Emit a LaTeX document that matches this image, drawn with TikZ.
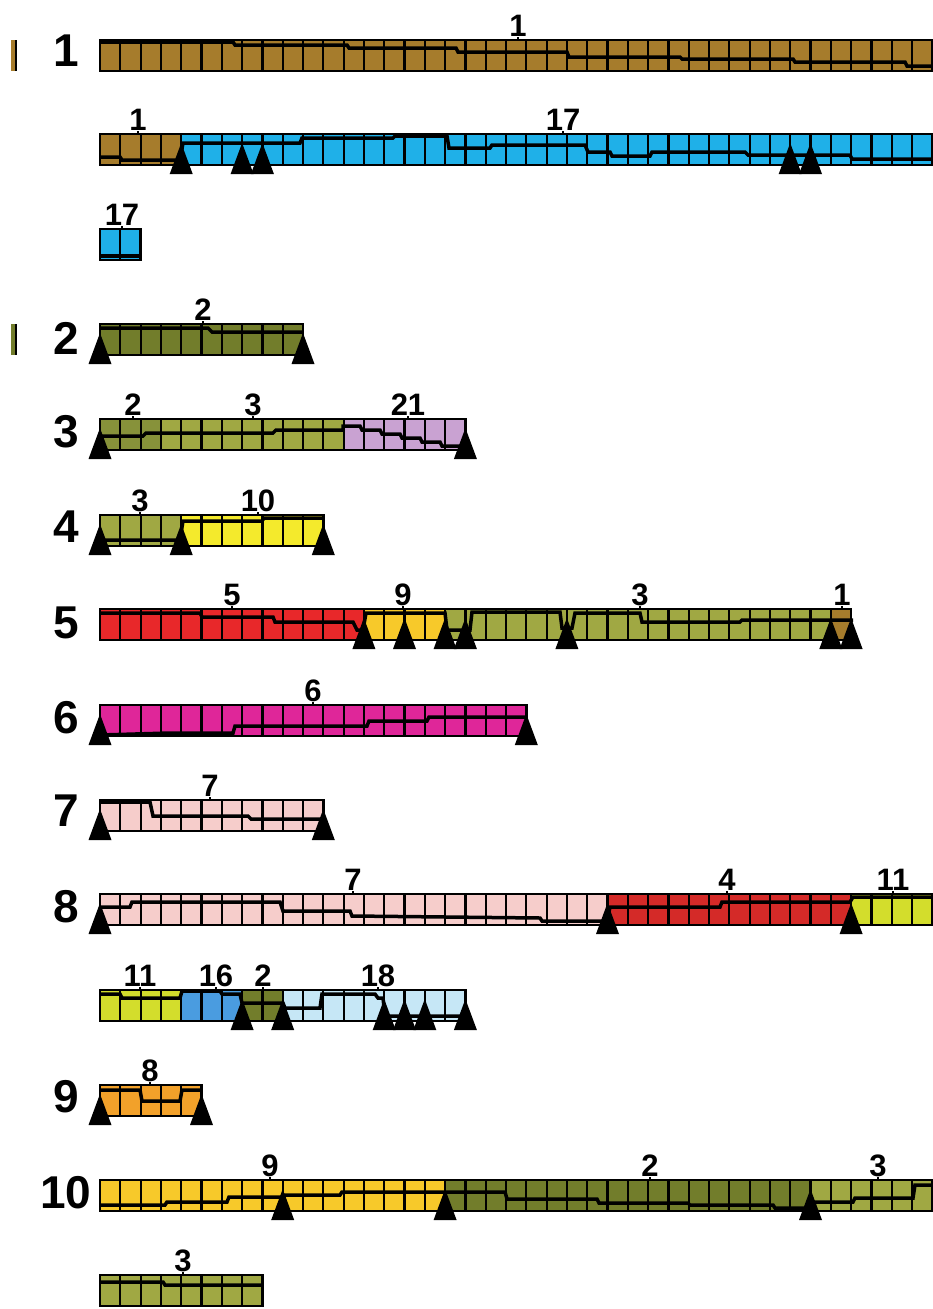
\documentclass[tikz,border=0pt]{standalone}
\usepackage{fontspec}
\setsansfont{Liberation Sans}

\tikzset{
    cellLine/.style={black, line width=2.2pt},
    barEdge/.style={black, line width=2.6pt},
    divLine/.style={black, line width=3.5pt},
    tickLine/.style={black, line width=2.5pt},
    rowLabel/.style={font=\fontsize{46}{46}\selectfont\sffamily\bfseries, inner sep=0pt},
    segLabel/.style={font=\fontsize{31}{31}\selectfont\sffamily\bfseries, inner sep=0pt, anchor=south},
}

\begin{document}
\begin{tikzpicture}[x=1pt, y=-1pt]
    \definecolor{brownCol}{HTML}{A67C2C}
    \definecolor{blueCol}{HTML}{1FB0E8}
    \definecolor{oliveDark}{HTML}{727D2B}
    \definecolor{oliveMid}{HTML}{87923A}
    \definecolor{oliveCol}{HTML}{A0A843}
    \definecolor{lilacCol}{HTML}{C9A2D2}
    \definecolor{yellowCol}{HTML}{F4EA2C}
    \definecolor{redCol}{HTML}{E8282A}
    \definecolor{goldCol}{HTML}{F7C92A}
    \definecolor{magentaCol}{HTML}{DF2699}
    \definecolor{pinkCol}{HTML}{F6CDCB}
    \definecolor{darkRedCol}{HTML}{D42A28}
    \definecolor{limeCol}{HTML}{D3DD2C}
    \definecolor{midBlueCol}{HTML}{4A9CE0}
    \definecolor{paleBlueCol}{HTML}{C6E7F6}
    \definecolor{orangeCol}{HTML}{F2A12A}

    \def\cellW{20.3}
    \def\barH{31}

    \useasboundingbox (0,0) rectangle (933,1309);
    \clip (0,0) rectangle (933,1309);

    % Segment: first cell, last cell, bar top, colour
    \def\drawSeg#1#2#3#4{%
        \fill[#4] ({100+#1*\cellW},#3) rectangle ({100+#2*\cellW},#3+\barH);
        \foreach \c in {#1,...,#2}
            \draw[cellLine] ({100+\c*\cellW},#3) -- ++(0,\barH);
    }

    % Cut-off bars at the left edge
    \fill[brownCol] (11,40) rectangle (16,71);
    \fill[oliveDark] (11,324) rectangle (16,355);
    \draw[barEdge] (16,40) -- (16,71);
    \draw[barEdge] (16,324) -- (16,355);

    % Draw coloured segments
    \foreach \a/\b/\t/\col in {0/42/40/brownCol, 0/4/134/brownCol, 4/42/134/blueCol,
        0/2/229/blueCol, 0/10/324/oliveDark,
        0/3/419/oliveMid, 3/12/419/oliveCol, 12/18/419/lilacCol,
        0/4/515/oliveCol, 4/11/515/yellowCol,
        0/13/609/redCol, 13/17/609/goldCol, 17/36/609/oliveCol, 36/37/609/brownCol,
        0/21/705/magentaCol, 0/11/800/pinkCol,
        0/25/894/pinkCol, 25/37/894/darkRedCol, 37/42/894/limeCol,
        0/4/990/limeCol, 4/7/990/midBlueCol, 7/9/990/oliveDark, 9/18/990/paleBlueCol,
        0/5/1085/orangeCol,
        0/17/1180/goldCol, 17/35/1180/oliveDark, 35/42/1180/oliveCol,
        0/8/1275/oliveCol}
        \drawSeg{\a}{\b}{\t}{\col};

    % Stepped divider lines
    \draw[divLine] (100,42) -- (233,42) -- (235,45) -- (347,45) -- (349,48) -- (456,48) -- (458,52)
        -- (567,52) -- (569,57) -- (680,57) -- (682,59) -- (793,59) -- (795,62) -- (905,62)
        -- (907,66) -- (940,66);
    \draw[divLine] (100,157) -- (120,157) -- (122,160) -- (180,160) -- (183,143) -- (300,143)
        -- (302,138) -- (393,138) -- (395,136) -- (447,136) -- (449,148) -- (490,148) -- (492,145)
        -- (585,145) -- (588,152) -- (610,152) -- (612,156) -- (650,156) -- (652,152) -- (745,152)
        -- (748,155) -- (850,155) -- (852,159) -- (940,159);
    \draw[divLine] (100,256) -- (141,256);
    \draw[divLine] (100,328) -- (208,328) -- (212,332) -- (303,332);
    \draw[divLine] (100,436) -- (143,436) -- (146,433) -- (273,433) -- (276,430) -- (343,430)
        -- (343,426) -- (360,426) -- (362,430) -- (380,430) -- (382,434) -- (400,434) -- (402,438)
        -- (420,438) -- (422,442) -- (440,442) -- (442,446) -- (465,446);
    \draw[divLine] (100,540) -- (180,540) -- (183,521) -- (262,521) -- (264,518) -- (323,518);
    \draw[divLine] (100,613) -- (200,613) -- (202,617) -- (273,617) -- (275,622) -- (353,622)
        -- (357,630) -- (363,630) -- (366,613) -- (445,613) -- (447,630) -- (470,630) -- (472,612)
        -- (560,612) -- (562,628) -- (572,628) -- (575,613) -- (640,613) -- (642,622) -- (740,622)
        -- (742,620) -- (853,620);
    \draw[divLine] (100,735) -- (170,733) -- (233,733) -- (235,726) -- (367,726) -- (369,721)
        -- (427,721) -- (429,717) -- (527,717);
    \draw[divLine] (100,802) -- (150,802) -- (153,816) -- (248,816) -- (251,819) -- (323,819);
    \draw[divLine] (100,907) -- (130,907) -- (132,902) -- (280,902) -- (283,911) -- (350,911)
        -- (352,916) -- (540,918) -- (542,921) -- (607,921) -- (610,907) -- (720,907) -- (722,902)
        -- (850,902) -- (853,897) -- (940,897);
    \draw[divLine] (100,994) -- (120,994) -- (122,998) -- (180,998) -- (182,991) -- (220,991)
        -- (222,994) -- (240,994) -- (242,1003) -- (283,1003) -- (285,1008) -- (320,1008)
        -- (322,994) -- (375,994) -- (378,998) -- (383,998) -- (385,1016) -- (465,1016);
    \draw[divLine] (100,1090) -- (140,1090) -- (142,1101) -- (180,1101) -- (182,1090) -- (202,1090);
    \draw[divLine] (100,1205) -- (165,1205) -- (167,1202) -- (227,1202) -- (229,1197) -- (283,1197)
        -- (285,1195) -- (340,1195) -- (342,1192) -- (505,1192) -- (507,1199) -- (597,1199)
        -- (599,1203) -- (688,1203) -- (690,1205) -- (773,1205) -- (775,1208) -- (813,1208)
        -- (815,1202) -- (853,1202) -- (855,1198) -- (913,1198) -- (915,1185) -- (940,1185);
    \draw[divLine] (100,1282) -- (163,1282) -- (165,1285) -- (263,1285);

    % Bar outlines: top, number of cells
    \foreach \t/\n in {40/42, 134/42, 229/2, 324/10, 419/18, 515/11, 609/37, 705/21,
        800/11, 894/42, 990/18, 1085/5, 1180/42, 1275/8}
        \draw[barEdge] (100,\t) rectangle ({100+\n*\cellW},\t+\barH);

    % Supports: cell, bar bottom
    \foreach \c/\b in {4/165, 7/165, 8/165, 34/165, 35/165,
        0/355, 10/355, 0/450, 18/450, 0/546, 4/546, 11/546,
        13/640, 15/640, 17/640, 18/640, 23/640, 36/640, 37/640,
        0/736, 21/736, 0/831, 11/831, 0/925, 25/925, 37/925,
        7/1021, 9/1021, 14/1021, 15/1021, 16/1021, 18/1021,
        0/1116, 5/1116, 9/1211, 17/1211, 35/1211}
        \fill[black] ({100+\c*\cellW},\b-22) -- ++(11.5,31) -- ++(-23,0) -- cycle;

    % Row numbers
    \foreach \r/\y in {1/51, 2/338, 3/432, 4/527, 5/623, 6/718, 7/811, 8/907, 9/1097, 10/1193}
        \node[rowLabel] (row\r) at (66,\y) {\r};

    % Unit labels: x, bar top, text
    \foreach \x/\t/\s [count=\i] in {518/40/1, 138/134/1, 563/134/17, 122/229/17,
        203/324/2, 133/419/2, 253/419/3, 408/419/21, 140/515/3, 258/515/10,
        232/609/5, 403/609/9, 640/609/3, 842/609/1, 313/705/6, 210/800/7,
        353/894/7, 727/894/4, 893/894/11, 140/990/11, 216/990/16, 263/990/2, 378/990/18,
        150/1085/8, 270/1180/9, 650/1180/2, 878/1180/3, 183/1275/3}
    {
        \node[segLabel] (unit\i) at (\x,\t-3) {\s};
        \draw[tickLine] (unit\i.south) -- (\x,\t);
    }
\end{tikzpicture}
\end{document}
